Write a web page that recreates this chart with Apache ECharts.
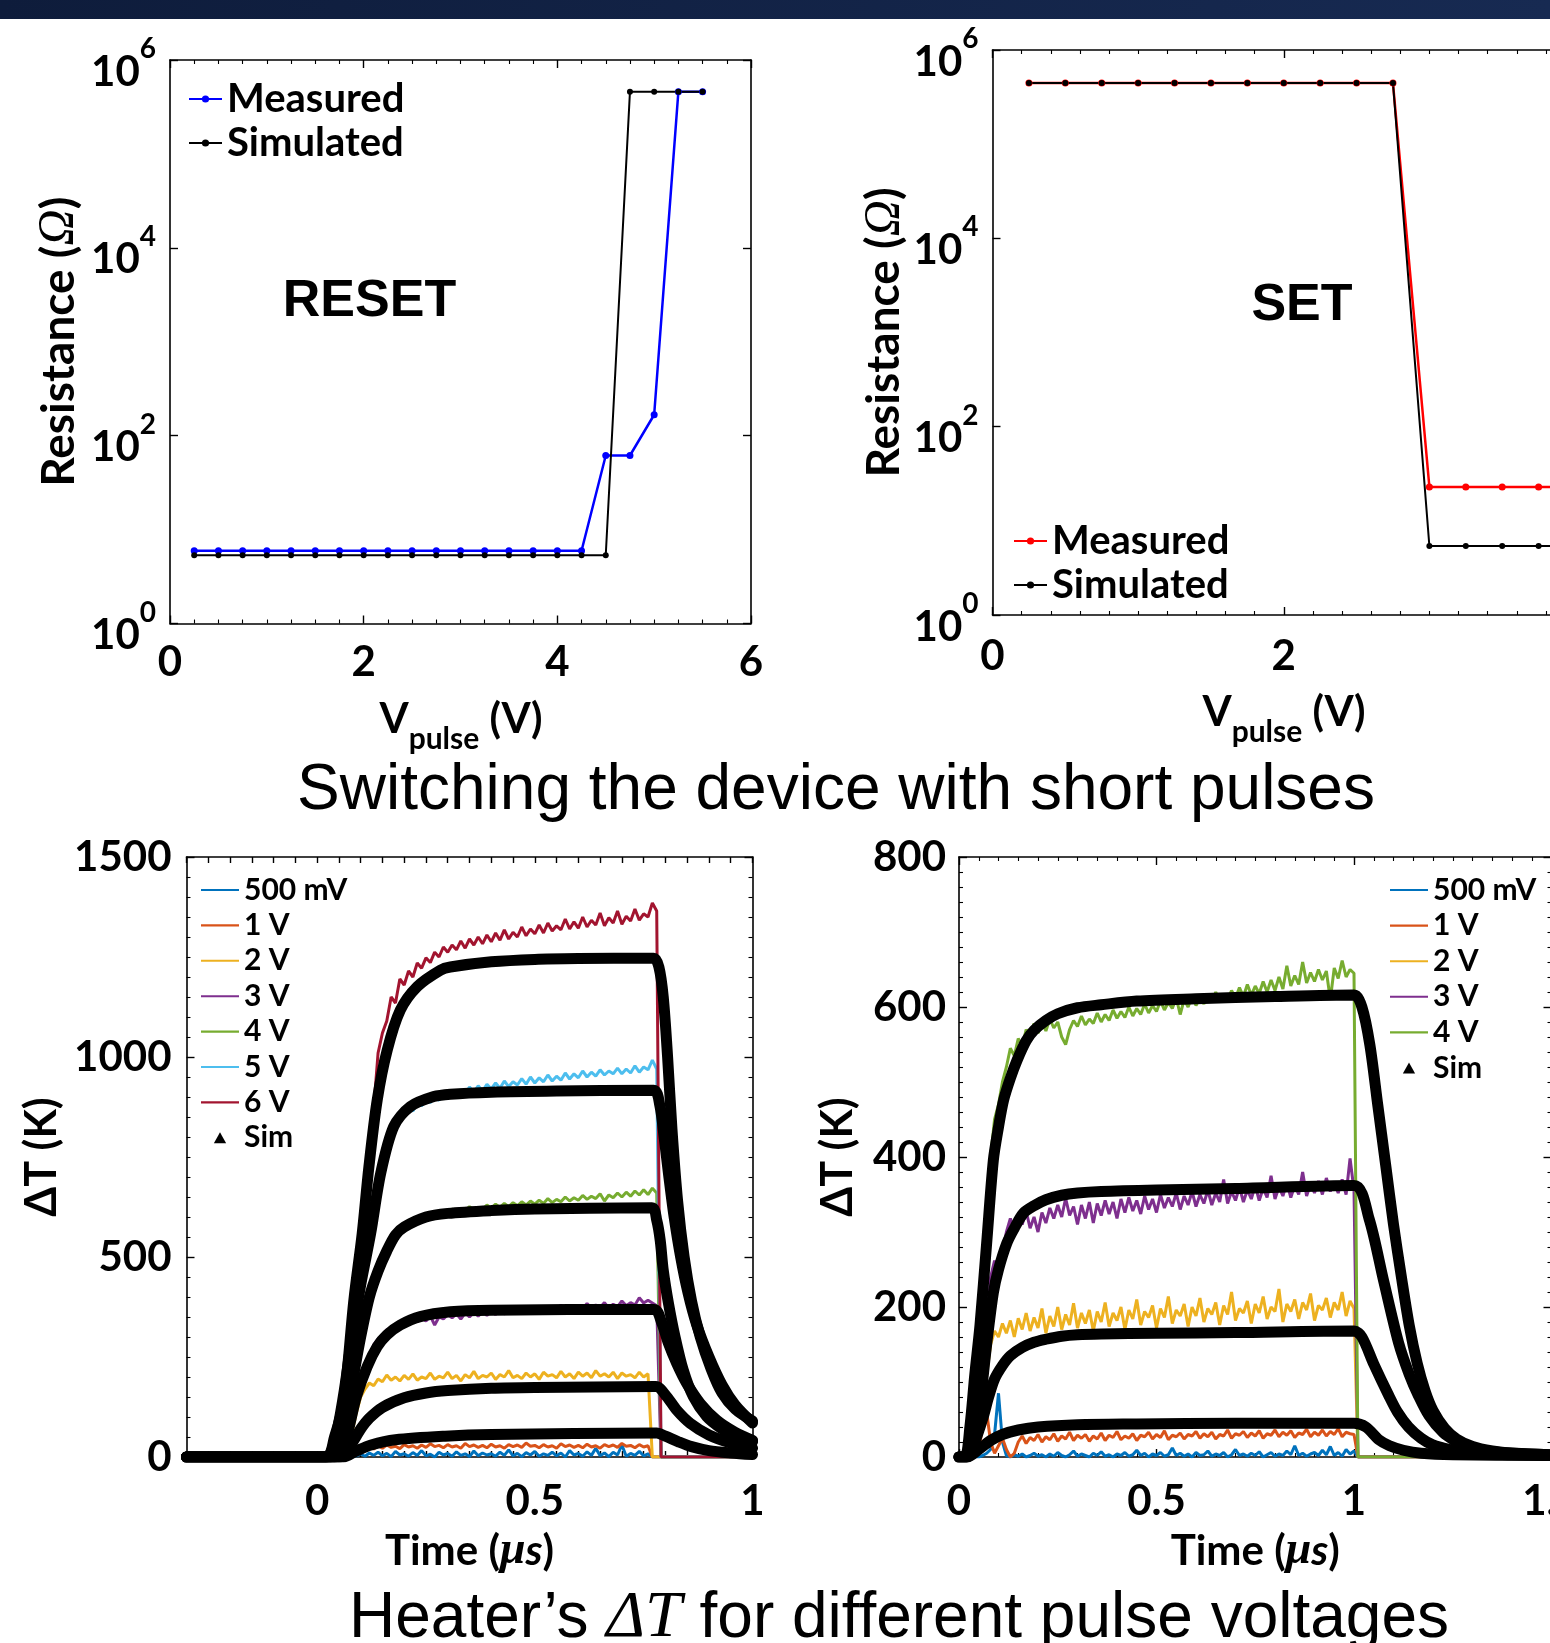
<!DOCTYPE html>
<html>
<head>
<meta charset="utf-8">
<script src="https://cdn.jsdelivr.net/npm/echarts@6.0.0/dist/echarts.min.js"></script>
<style>
html, body { margin: 0; padding: 0; background: #fff; }
#main { width: 1550px; height: 1643px; }
</style>
</head>
<body>
<div id="main"></div>
<script>
// ---------- top panels: resistance vs pulse voltage ----------
var resetV = [0.25, 0.5, 0.75, 1, 1.25, 1.5, 1.75, 2, 2.25, 2.5, 2.75, 3, 3.25, 3.5, 3.75, 4, 4.25, 4.5, 4.75, 5, 5.25, 5.5];
var resetMeasured = [5.95, 5.95, 5.95, 5.95, 5.95, 5.95, 5.95, 5.95, 5.95, 5.95, 5.95, 5.95, 5.95, 5.95, 5.95, 5.95, 5.95, 61.5, 61.5, 167, 4.6e5, 4.6e5];
var resetSimulated = [5.33, 5.33, 5.33, 5.33, 5.33, 5.33, 5.33, 5.33, 5.33, 5.33, 5.33, 5.33, 5.33, 5.33, 5.33, 5.33, 5.33, 5.33, 4.6e5, 4.6e5, 4.6e5, 4.6e5];

var setV = [0.25, 0.5, 0.75, 1, 1.25, 1.5, 1.75, 2, 2.25, 2.5, 2.75, 3, 3.25, 3.5, 3.75, 4];
var setMeasured = [4.45e5, 4.45e5, 4.45e5, 4.45e5, 4.45e5, 4.45e5, 4.45e5, 4.45e5, 4.45e5, 4.45e5, 4.45e5, 22.9, 22.9, 22.9, 22.9, 22.9];
var setSimulated = [4.45e5, 4.45e5, 4.45e5, 4.45e5, 4.45e5, 4.45e5, 4.45e5, 4.45e5, 4.45e5, 4.45e5, 4.45e5, 5.4, 5.4, 5.4, 5.4, 5.4];

var logTicks = [1, 100, 1e4, 1e6];

// ---------- bottom-left: heater dT, short pulse ----------
var tMeasL = [-0.3, 0.05,
  0.06, 0.07, 0.08, 0.09, 0.10, 0.11, 0.12, 0.13, 0.14, 0.15,
  0.16, 0.17, 0.18, 0.19, 0.20, 0.21, 0.22, 0.23, 0.24, 0.25,
  0.26, 0.27, 0.28, 0.29, 0.30, 0.31, 0.32, 0.33, 0.34, 0.35,
  0.36, 0.37, 0.38, 0.39, 0.40, 0.41, 0.42, 0.43, 0.44, 0.45,
  0.46, 0.47, 0.48, 0.49, 0.50, 0.51, 0.52, 0.53, 0.54, 0.55,
  0.56, 0.57, 0.58, 0.59, 0.60, 0.61, 0.62, 0.63, 0.64, 0.65,
  0.66, 0.67, 0.68, 0.69, 0.70, 0.71, 0.72, 0.73, 0.74, 0.75,
  0.76, 0.77, 0.78,
  0.79, 1.0];

var mL500mV = [0, 0,
  0, 0, 0, 3, 8, 2, 10, 4, 12, 3,
  9, 1, 14, 5, 8, 2, 11, 4, 16, 3,
  7, 0, 12, 5, 9, 2, 13, 4, 8, 1,
  15, 3, 10, 5, 8, 2, 12, 4, 18, 3,
  9, 1, 11, 5, 14, 2, 8, 4, 12, 3,
  10, 0, 16, 5, 9, 2, 13, 4, 22, 3,
  10, 1, 12, 5, 30, 2, 9, 4, 14, 3,
  8, 0, 0,
  0, 0];
var mL1V = [0, 0,
  0, 0, 5, 15, 22, 18, 26, 20, 28, 22,
  30, 24, 27, 21, 31, 25, 28, 22, 30, 24,
  33, 26, 29, 23, 31, 25, 28, 22, 34, 26,
  30, 24, 29, 23, 32, 25, 28, 22, 31, 26,
  30, 24, 35, 27, 29, 23, 31, 25, 28, 22,
  33, 26, 30, 24, 29, 23, 32, 25, 28, 22,
  31, 26, 30, 24, 34, 27, 29, 23, 31, 25,
  28, 0, 0,
  0, 0];
var mL2V = [0, 0,
  0, 20, 60, 110, 150, 170, 185, 178, 195, 188,
  205, 192, 200, 190, 204, 194, 208, 192, 200, 196,
  210, 194, 202, 198, 212, 196, 204, 190, 206, 198,
  214, 196, 204, 200, 210, 194, 206, 200, 216, 198,
  204, 196, 210, 200, 208, 194, 212, 202, 206, 198,
  214, 200, 208, 196, 212, 202, 210, 198, 216, 202,
  208, 200, 212, 196, 210, 202, 206, 198, 212, 200,
  208, 0, 0,
  0, 0];
var mL3V = [0, 0,
  20, 60, 110, 160, 200, 225, 250, 280, 295, 305,
  318, 322, 332, 325, 338, 332, 345, 338, 348, 340,
  352, 330, 350, 345, 356, 348, 358, 345, 360, 350,
  362, 352, 364, 354, 366, 356, 368, 358, 362, 360,
  370, 358, 372, 362, 374, 364, 372, 362, 376, 366,
  380, 368, 376, 366, 378, 370, 384, 372, 380, 374,
  386, 372, 382, 376, 390, 378, 386, 380, 398, 385,
  392, 385, 378,
  0, 0];
var mL4V = [0, 0,
  60, 120, 180, 240, 300, 350, 400, 440, 470, 505,
  525, 548, 560, 575, 580, 592, 588, 600, 596, 607,
  603, 612, 606, 616, 610, 620, 614, 622, 616, 626,
  618, 624, 620, 630, 622, 632, 624, 634, 626, 636,
  628, 638, 630, 640, 632, 642, 634, 646, 636, 644,
  638, 650, 640, 648, 642, 654, 644, 652, 646, 658,
  640, 655, 648, 660, 650, 662, 652, 665, 655, 668,
  656, 672, 660,
  0, 0];
var mL5V = [0, 0,
  140, 210, 290, 360, 425, 490, 550, 610, 665, 720,
  790, 815, 840, 855, 850, 872, 865, 885, 878, 893,
  886, 900, 892, 908, 898, 915, 905, 918, 908, 925,
  912, 928, 915, 932, 920, 935, 922, 940, 926, 938,
  930, 946, 932, 950, 935, 948, 938, 955, 940, 952,
  942, 960, 945, 958, 948, 965, 950, 962, 952, 968,
  955, 965, 958, 972, 958, 970, 960, 978, 962, 975,
  968, 992, 970,
  0, 0];
var mL6V = [0, 0,
  120, 230, 340, 450, 560, 680, 780, 870, 1010, 1060,
  1090, 1150, 1135, 1195, 1180, 1215, 1200, 1235, 1222, 1248,
  1236, 1262, 1250, 1275, 1262, 1280, 1268, 1290, 1272, 1295,
  1280, 1300, 1283, 1305, 1288, 1310, 1292, 1318, 1295, 1312,
  1300, 1325, 1303, 1320, 1308, 1330, 1310, 1335, 1315, 1328,
  1318, 1345, 1320, 1338, 1322, 1350, 1325, 1342, 1330, 1360,
  1328, 1348, 1335, 1365, 1332, 1352, 1340, 1370, 1342, 1358,
  1350, 1385, 1365,
  0, 0];

var simL1V = [[-0.3, 0], [0.06, 0], [0.09, 15], [0.124, 30], [0.18, 43], [0.294, 52], [0.4, 56], [0.78, 60], [0.8, 52], [0.83, 38], [0.86, 26], [0.9, 16], [0.95, 10], [1.0, 6]];
var simL2V = [[-0.3, 0], [0.05, 0], [0.08, 35], [0.1, 70], [0.12, 97], [0.15, 124], [0.2, 148], [0.25, 160], [0.3, 166], [0.4, 172], [0.5, 174], [0.778, 176], [0.803, 151], [0.826, 117], [0.857, 84], [0.9, 55], [0.95, 35], [1.0, 22]];
var simL3V = [[-0.3, 0], [0.04, 0], [0.055, 20], [0.07, 60], [0.09, 150], [0.115, 226], [0.138, 276], [0.16, 305], [0.191, 330], [0.237, 351], [0.306, 363], [0.4, 367], [0.774, 369], [0.792, 334], [0.807, 284], [0.826, 234], [0.849, 184], [0.88, 134], [0.918, 92], [0.96, 62], [1.0, 42]];
var simL4V = [[-0.3, 0], [0.03, 0], [0.06, 60], [0.08, 180], [0.1, 300], [0.12, 400], [0.14, 465], [0.16, 515], [0.18, 555], [0.2, 575], [0.25, 600], [0.3, 609], [0.4, 616], [0.5, 620], [0.769, 623], [0.78, 592], [0.788, 542], [0.795, 467], [0.807, 384], [0.822, 301], [0.841, 217], [0.864, 151], [0.895, 101], [0.93, 70], [0.96, 52], [1.0, 38]];
var simL5V = [[-0.3, 0], [0.02, 0], [0.04, 40], [0.06, 150], [0.08, 300], [0.1, 430], [0.123, 559], [0.146, 709], [0.176, 826], [0.214, 876], [0.268, 901], [0.306, 907], [0.4, 912], [0.55, 915], [0.773, 917], [0.787, 880], [0.797, 800], [0.808, 700], [0.82, 600], [0.835, 500], [0.852, 410], [0.872, 330], [0.9, 250], [0.93, 180], [0.96, 130], [1.0, 85]];
var simL6V = [[-0.3, 0], [0.02, 0], [0.04, 50], [0.0615, 142], [0.0845, 393], [0.1036, 559], [0.119, 726], [0.138, 892], [0.161, 1017], [0.191, 1117], [0.23, 1176], [0.283, 1217], [0.306, 1225], [0.4, 1238], [0.5, 1244], [0.6, 1246], [0.773, 1247], [0.785, 1225], [0.795, 1150], [0.805, 1000], [0.815, 820], [0.828, 640], [0.843, 500], [0.86, 390], [0.88, 300], [0.905, 220], [0.93, 160], [0.96, 120], [1.0, 90]];

// ---------- bottom-right: heater dT, 1 us pulse ----------
var tMeasR = [0,
  0.03, 0.04, 0.05, 0.06, 0.07, 0.08, 0.09, 0.10, 0.11, 0.12,
  0.13, 0.14, 0.15, 0.16, 0.17, 0.18, 0.19, 0.20, 0.21, 0.22,
  0.23, 0.24, 0.25, 0.26, 0.27, 0.28, 0.29, 0.30, 0.31, 0.32,
  0.33, 0.34, 0.35, 0.36, 0.37, 0.38, 0.39, 0.40, 0.41, 0.42,
  0.43, 0.44, 0.45, 0.46, 0.47, 0.48, 0.49, 0.50, 0.51, 0.52,
  0.53, 0.54, 0.55, 0.56, 0.57, 0.58, 0.59, 0.60, 0.61, 0.62,
  0.63, 0.64, 0.65, 0.66, 0.67, 0.68, 0.69, 0.70, 0.71, 0.72,
  0.73, 0.74, 0.75, 0.76, 0.77, 0.78, 0.79, 0.80, 0.81, 0.82,
  0.83, 0.84, 0.85, 0.86, 0.87, 0.88, 0.89, 0.90, 0.91, 0.92,
  0.93, 0.94, 0.95, 0.96, 0.97, 0.98, 0.99, 1.00,
  1.01, 1.5];

var mR500mV = [0,
  0, 0, 0, 2, 5, 10, 30, 85, 20, 2,
  0, 3, 1, 4, 0, 2, 5, 1, 3, 0,
  4, 1, 6, 2, 0, 3, 8, 1, 4, 2,
  0, 5, 2, 7, 1, 3, 0, 4, 2, 6,
  1, 3, 9, 2, 5, 0, 4, 2, 6, 1,
  3, 12, 2, 5, 1, 4, 0, 6, 2, 3,
  8, 1, 4, 2, 6, 0, 3, 10, 2, 4,
  1, 5, 2, 7, 0, 3, 6, 1, 4, 2,
  8, 3, 15, 2, 5, 1, 4, 6, 2, 9,
  3, 14, 2, 6, 1, 10, 4, 8,
  0, 0];
var mR1V = [0,
  0, 0, 10, 40, 60, 20, 5, 15, 25, 10,
  0, 5, 20, 28, 18, 26, 22, 30, 20, 27,
  23, 31, 21, 28, 24, 33, 22, 29, 25, 30,
  21, 28, 24, 32, 22, 29, 26, 34, 23, 28,
  25, 31, 22, 29, 27, 33, 24, 30, 26, 35,
  23, 29, 27, 32, 24, 30, 28, 34, 25, 31,
  27, 33, 24, 30, 28, 36, 25, 31, 29, 34,
  26, 32, 28, 35, 25, 31, 29, 36, 27, 33,
  29, 35, 26, 32, 30, 37, 27, 33, 29, 36,
  28, 34, 30, 38, 27, 33, 31, 30,
  0, 0];
var mR2V = [0,
  0, 10, 30, 60, 110, 150, 168, 160, 178, 165,
  182, 160, 185, 170, 192, 168, 186, 172, 198, 165,
  188, 174, 200, 170, 190, 176, 205, 172, 192, 178,
  196, 168, 194, 180, 206, 174, 192, 182, 200, 170,
  196, 184, 210, 176, 194, 186, 202, 172, 198, 186,
  214, 178, 196, 188, 204, 174, 200, 188, 212, 180,
  198, 190, 206, 176, 202, 190, 220, 182, 198, 192,
  208, 178, 204, 192, 214, 184, 200, 194, 224, 180,
  204, 194, 210, 184, 206, 196, 218, 182, 202, 196,
  212, 186, 206, 196, 220, 188, 208, 198,
  0, 0];
var mR3V = [0,
  0, 10, 40, 100, 180, 240, 262, 240, 275, 300,
  318, 300, 322, 310, 328, 305, 320, 300, 326, 312,
  332, 318, 336, 320, 345, 322, 334, 310, 336, 318,
  340, 312, 338, 322, 342, 324, 340, 318, 344, 326,
  346, 328, 342, 324, 348, 330, 344, 326, 350, 332,
  346, 334, 352, 330, 348, 336, 354, 334, 350, 338,
  356, 336, 352, 340, 370, 338, 354, 342, 360, 340,
  356, 344, 362, 342, 358, 346, 375, 344, 360, 348,
  366, 346, 362, 350, 380, 348, 364, 352, 368, 350,
  372, 354, 366, 352, 370, 350, 398, 356,
  0, 0];
var mR4V = [0,
  20, 80, 160, 240, 320, 400, 450, 470, 500, 520,
  545, 535, 558, 548, 570, 560, 578, 565, 580, 568,
  584, 572, 580, 560, 550, 570, 582, 574, 588, 576,
  584, 578, 592, 580, 590, 582, 596, 585, 594, 586,
  600, 588, 598, 590, 604, 592, 602, 594, 608, 596,
  606, 598, 612, 590, 610, 600, 614, 602, 612, 604,
  618, 606, 620, 608, 616, 610, 622, 612, 626, 614,
  630, 616, 628, 618, 634, 620, 636, 622, 640, 624,
  655, 628, 642, 630, 660, 632, 646, 634, 650, 636,
  648, 610, 652, 638, 662, 640, 650, 645,
  0, 0];

var simR1V = [[0, 0], [0.02, 0], [0.05, 10], [0.08, 22], [0.11, 30], [0.15, 36], [0.2, 40], [0.3, 43], [0.45, 44], [0.7, 45], [1.0, 45], [1.03, 40], [1.063, 23], [1.09, 15], [1.125, 9], [1.17, 5], [1.25, 3], [1.5, 2]];
var simR2V = [[0, 0], [0.02, 0], [0.04, 20], [0.06, 51], [0.075, 80], [0.09, 104], [0.11, 122], [0.13, 135], [0.16, 146], [0.19, 153], [0.22, 157], [0.26, 161], [0.3, 163], [0.36, 164], [0.5, 165], [0.7, 166], [1.0, 168], [1.02, 160], [1.05, 124], [1.088, 82], [1.11, 60], [1.138, 40], [1.17, 25], [1.2, 16], [1.25, 9], [1.29, 5], [1.4, 3], [1.5, 2]];
var simR3V = [[0, 0], [0.02, 0], [0.04, 30], [0.055, 80], [0.07, 150], [0.087, 219], [0.1, 250], [0.121, 285], [0.14, 305], [0.163, 325], [0.19, 335], [0.22, 343], [0.26, 349], [0.3, 352], [0.36, 354], [0.5, 356], [0.7, 358], [1.0, 362], [1.038, 318], [1.075, 235], [1.113, 152], [1.14, 110], [1.163, 82], [1.19, 55], [1.225, 33], [1.26, 20], [1.288, 12], [1.35, 7], [1.41, 5], [1.5, 3]];
var simR4V = [[0, 0], [0.015, 0], [0.028, 42], [0.04, 110], [0.053, 175], [0.07, 285], [0.087, 396], [0.1, 440], [0.113, 476], [0.13, 505], [0.147, 529], [0.17, 555], [0.19, 569], [0.22, 582], [0.25, 591], [0.3, 599], [0.36, 603], [0.45, 608], [0.6, 611], [0.8, 614], [1.0, 616], [1.02, 600], [1.04, 550], [1.06, 470], [1.08, 390], [1.1, 310], [1.12, 240], [1.14, 175], [1.16, 125], [1.18, 88], [1.2, 62], [1.23, 38], [1.26, 24], [1.3, 14], [1.35, 8], [1.4, 5], [1.5, 3]];

var voltNames = ['500 mV', '1 V', '2 V', '3 V', '4 V', '5 V', '6 V'];
var voltColors = ['#0072BD', '#D95319', '#EDB120', '#7E2F8E', '#77AC30', '#4DBEEE', '#A2142F'];

// ---------- chart ----------
var dom = document.getElementById('main');
var myChart = echarts.init(dom, null, {renderer: 'canvas'});

var FONT = 'Lato, "Open Sans", sans-serif';
var bold = function (size) {
    return {fontFamily: FONT, fontWeight: 'bold', fontSize: size, color: '#000'};
};
var plain = function (v) { return String(v); };

function boxAxis(gi, pos, scale, tick, minor, label, nameOpt) {
    var ax = {
        gridIndex: gi,
        position: pos,
        axisLine: {show: true, onZero: false, lineStyle: {color: '#000', width: 1.6}},
        axisTick: Object.assign({show: true, inside: true, length: 8, lineStyle: {color: '#000', width: 1.4}}, tick || {}),
        minorTick: Object.assign({show: false, length: 4, lineStyle: {color: '#000', width: 1.1}}, minor || {}),
        splitLine: {show: false},
        minorSplitLine: {show: false},
        axisLabel: label || {show: false}
    };
    Object.assign(ax, scale);
    if (nameOpt) Object.assign(ax, nameOpt);
    return ax;
}

var logRich = {
    b: {fontFamily: FONT, fontWeight: 'bold', fontSize: 42, lineHeight: 42, color: '#000', padding: [24, 0, 0, 0]},
    e: {fontFamily: FONT, fontWeight: 'bold', fontSize: 28, lineHeight: 28, color: '#000', padding: [0, 0, 22, 0]}
};
var logLabel = {
    customValues: logTicks, margin: 14, rich: logRich, color: '#000',
    formatter: function (v) { return '{b|10}{e|' + Math.round(Math.log10(v)) + '}'; }
};
var logScale = {type: 'log', logBase: 10, min: 1, max: 1e6};
var logTick = {customValues: logTicks, length: 8};

var resName = {
    name: '{a|Resistance (}{o|Ω}{a|)}', nameLocation: 'middle',
    nameTextStyle: {color: '#000', rich: {
        a: {fontFamily: FONT, fontWeight: 'bold', fontSize: 46, lineHeight: 46, color: '#000'},
        o: {fontFamily: '"Liberation Serif", serif', fontStyle: 'italic', fontSize: 50, lineHeight: 46, color: '#000'}
    }}
};
var timeName = {
    name: '{a|Time (}{m|μ}{i|s}{a|)}', nameLocation: 'middle', nameGap: 72,
    nameTextStyle: {color: '#000', rich: {
        a: {fontFamily: FONT, fontWeight: 'bold', fontSize: 42, lineHeight: 44, color: '#000'},
        m: {fontFamily: '"Liberation Serif", serif', fontStyle: 'italic', fontWeight: 'bold', fontSize: 46, lineHeight: 44, color: '#000'},
        i: {fontFamily: FONT, fontStyle: 'italic', fontWeight: 'bold', fontSize: 42, lineHeight: 44, color: '#000'}
    }}
};
var dtName = {
    name: 'ΔT (K)', nameLocation: 'middle',
    nameTextStyle: {fontFamily: 'Lato, "DejaVu Sans", sans-serif', fontWeight: 'bold', fontSize: 43, lineHeight: 44, color: '#000'}
};
// V_pulse titles of the two top panels (subscript needs its own box)
var vPulseText = {
    text: '{v|V}{s|pulse}{v| (V)}', align: 'center', verticalAlign: 'middle', fill: '#000',
    rich: {
        v: {fontFamily: FONT, fontWeight: 'bold', fontSize: 42, lineHeight: 44, fill: '#000'},
        s: {fontFamily: FONT, fontWeight: 'bold', fontSize: 30, lineHeight: 30, fill: '#000', padding: [40, 0, 0, 0]}
    }
};

var xTL = {type: 'value', min: 0, max: 6, interval: 2};
var xTR = {type: 'value', min: 0, max: 4, interval: 2};
var xBL = {type: 'value', min: -0.3, max: 1, interval: 0.05};
var xBR = {type: 'value', min: 0, max: 1.5, interval: 0.5};
var yBL = {type: 'value', min: 0, max: 1500, interval: 500};
var yBR = {type: 'value', min: 0, max: 800, interval: 200};

var xAxes = [
    boxAxis(0, 'bottom', xTL, null, {show: true, splitNumber: 8}, Object.assign({margin: 18, formatter: plain}, bold(42))),
    boxAxis(0, 'top', xTL, null, {show: true, splitNumber: 8}),
    boxAxis(1, 'bottom', xTR, null, {show: true, splitNumber: 10}, Object.assign({margin: 20, formatter: plain}, bold(42))),
    boxAxis(1, 'top', xTR, null, {show: true, splitNumber: 10}),
    boxAxis(2, 'bottom', xBL, {length: 6}, null, Object.assign({margin: 23, customValues: [0, 0.5, 1], formatter: plain}, bold(42)), timeName),
    boxAxis(2, 'top', xBL, {length: 6}),
    boxAxis(3, 'bottom', xBR, null, {show: true, splitNumber: 10}, Object.assign({margin: 23, showMaxLabel: true, formatter: plain}, bold(42)), timeName),
    boxAxis(3, 'top', xBR, null, {show: true, splitNumber: 10})
];
var yAxes = [
    boxAxis(0, 'left', logScale, logTick, null, logLabel, Object.assign({nameGap: 88}, resName)),
    boxAxis(0, 'right', logScale, logTick),
    boxAxis(1, 'left', logScale, logTick, null, logLabel, Object.assign({nameGap: 84}, resName)),
    boxAxis(1, 'right', logScale, logTick),
    boxAxis(2, 'left', yBL, null, {show: true, splitNumber: 10}, Object.assign({margin: 15, formatter: plain}, bold(42)), Object.assign({nameGap: 122}, dtName)),
    boxAxis(2, 'right', yBL, null, {show: true, splitNumber: 10}),
    boxAxis(3, 'left', yBR, null, {show: true, splitNumber: 10}, Object.assign({margin: 13, formatter: plain}, bold(42)), Object.assign({nameGap: 99}, dtName)),
    boxAxis(3, 'right', yBR, null, {show: true, splitNumber: 10})
];

function zip(xs, ys) {
    return xs.map(function (x, i) { return [x, ys[i]]; });
}
function dotLine(name, color, width, size, xs, ys, g) {
    return {
        type: 'line', name: name, xAxisIndex: 2 * g, yAxisIndex: 2 * g,
        data: zip(xs, ys), symbol: 'circle', symbolSize: size, showSymbol: true,
        lineStyle: {color: color, width: width}, itemStyle: {color: color}
    };
}
function measLine(k, xs, ys, g) {
    return {
        type: 'line', name: voltNames[k], xAxisIndex: 2 * g, yAxisIndex: 2 * g,
        data: zip(xs, ys), symbol: 'none', showSymbol: false,
        lineStyle: {color: voltColors[k], width: 3}, itemStyle: {color: voltColors[k]}, z: 2
    };
}
function simLine(pts, g) {
    return {
        type: 'line', name: 'Sim', xAxisIndex: 2 * g, yAxisIndex: 2 * g,
        data: pts, symbol: 'triangle', showSymbol: false, smooth: 0.3,
        lineStyle: {color: '#000', width: 11, join: 'round', cap: 'round'}, itemStyle: {color: '#000'}, z: 3
    };
}

var series = [
    dotLine('reset|Measured', '#0000ff', 2.5, 7, resetV, resetMeasured, 0),
    dotLine('reset|Simulated', '#000000', 2, 6, resetV, resetSimulated, 0),
    dotLine('set|Measured', '#ff0000', 2.5, 7, setV, setMeasured, 1),
    dotLine('set|Simulated', '#000000', 2, 6, setV, setSimulated, 1)
];
[mL500mV, mL1V, mL2V, mL3V, mL4V, mL5V, mL6V].forEach(function (vals, k) {
    series.push(measLine(k, tMeasL, vals, 2));
});
[mR500mV, mR1V, mR2V, mR3V, mR4V].forEach(function (vals, k) {
    series.push(measLine(k, tMeasR, vals, 3));
});
[simL1V, simL2V, simL3V, simL4V, simL5V, simL6V].forEach(function (pts) { series.push(simLine(pts, 2)); });
[simR1V, simR2V, simR3V, simR4V].forEach(function (pts) { series.push(simLine(pts, 3)); });

var legendText = {fontFamily: FONT, fontWeight: 'bold', color: '#000'};
var splitName = function (n) { return n.split('|')[1]; };
var lineIcon = 'path://M0,0H40V2.2H0Z';
var triIcon = 'path://M5,0L10,9L0,9Z';
function voltLegend(n) {
    return voltNames.slice(0, n).map(function (v) { return {name: v, icon: lineIcon}; })
        .concat([{name: 'Sim', icon: triIcon}]);
}

option = {
    backgroundColor: '#ffffff',
    animation: false,
    grid: [
        {left: 170, top: 60, width: 581, height: 563.5, outerBoundsMode: 'none', containLabel: false},
        {left: 992.5, top: 50, width: 582.5, height: 565, outerBoundsMode: 'none', containLabel: false},
        {left: 186.5, top: 857, width: 566, height: 600, outerBoundsMode: 'none', containLabel: false},
        {left: 959, top: 857, width: 592.5, height: 600, outerBoundsMode: 'none', containLabel: false}
    ],
    xAxis: xAxes,
    yAxis: yAxes,
    legend: [
        {data: ['reset|Measured', 'reset|Simulated'], formatter: splitName, orient: 'vertical', left: 183, top: 72,
            itemWidth: 33, itemHeight: 9, itemGap: 0, selectedMode: false,
            textStyle: Object.assign({fontSize: 40, lineHeight: 44}, legendText)},
        {data: ['set|Measured', 'set|Simulated'], formatter: splitName, orient: 'vertical', left: 1008, top: 514,
            itemWidth: 33, itemHeight: 9, itemGap: 0, selectedMode: false,
            textStyle: Object.assign({fontSize: 40, lineHeight: 44}, legendText)},
        {data: voltLegend(7), orient: 'vertical', left: 196, top: 869,
            itemWidth: 38, itemHeight: 11, itemGap: 3.4, selectedMode: false, symbolKeepAspect: true,
            textStyle: Object.assign({fontSize: 30, lineHeight: 32}, legendText)},
        {data: voltLegend(5), orient: 'vertical', left: 1385, top: 869,
            itemWidth: 38, itemHeight: 11, itemGap: 3.6, selectedMode: false, symbolKeepAspect: true,
            textStyle: Object.assign({fontSize: 30, lineHeight: 32}, legendText)}
    ],
    graphic: [
        {type: 'rect', shape: {x: 0, y: 0, width: 1550, height: 19}, silent: true,
            style: {fill: new echarts.graphic.LinearGradient(0, 0, 1, 0, [{offset: 0, color: '#0e1c3b'}, {offset: 1, color: '#172a52'}])}},
        {type: 'text', x: 461, y: 719, silent: true, style: vPulseText},
        {type: 'text', x: 1284, y: 712, silent: true, style: vPulseText},
        {type: 'text', x: 369.5, y: 302, silent: true,
            style: {text: 'RESET', fontFamily: '"Liberation Sans", Arial, sans-serif', fontWeight: 'bold', fontSize: 52, fill: '#000', align: 'center', verticalAlign: 'middle'}},
        {type: 'text', x: 1302, y: 306, silent: true,
            style: {text: 'SET', fontFamily: '"Liberation Sans", Arial, sans-serif', fontWeight: 'bold', fontSize: 52, fill: '#000', align: 'center', verticalAlign: 'middle'}},
        {type: 'text', x: 836, y: 791, silent: true,
            style: {text: 'Switching the device with short pulses', fontFamily: '"Liberation Sans", Arial, sans-serif', fontSize: 64, fill: '#000', align: 'center', verticalAlign: 'middle'}},
        {type: 'text', x: 899, y: 1619, silent: true,
            style: {text: '{n|Heater’s }{m|ΔT}{n| for different pulse voltages}', align: 'center', verticalAlign: 'middle', fill: '#000',
                rich: {
                    n: {fontFamily: '"Liberation Sans", Arial, sans-serif', fontSize: 64, lineHeight: 70},
                    m: {fontFamily: '"Liberation Serif", serif', fontStyle: 'italic', fontSize: 66, lineHeight: 70}
                }}}
    ],
    series: series
};

if (option && typeof option === 'object') {
    myChart.setOption(option, true);
}
</script>
</body>
</html>
